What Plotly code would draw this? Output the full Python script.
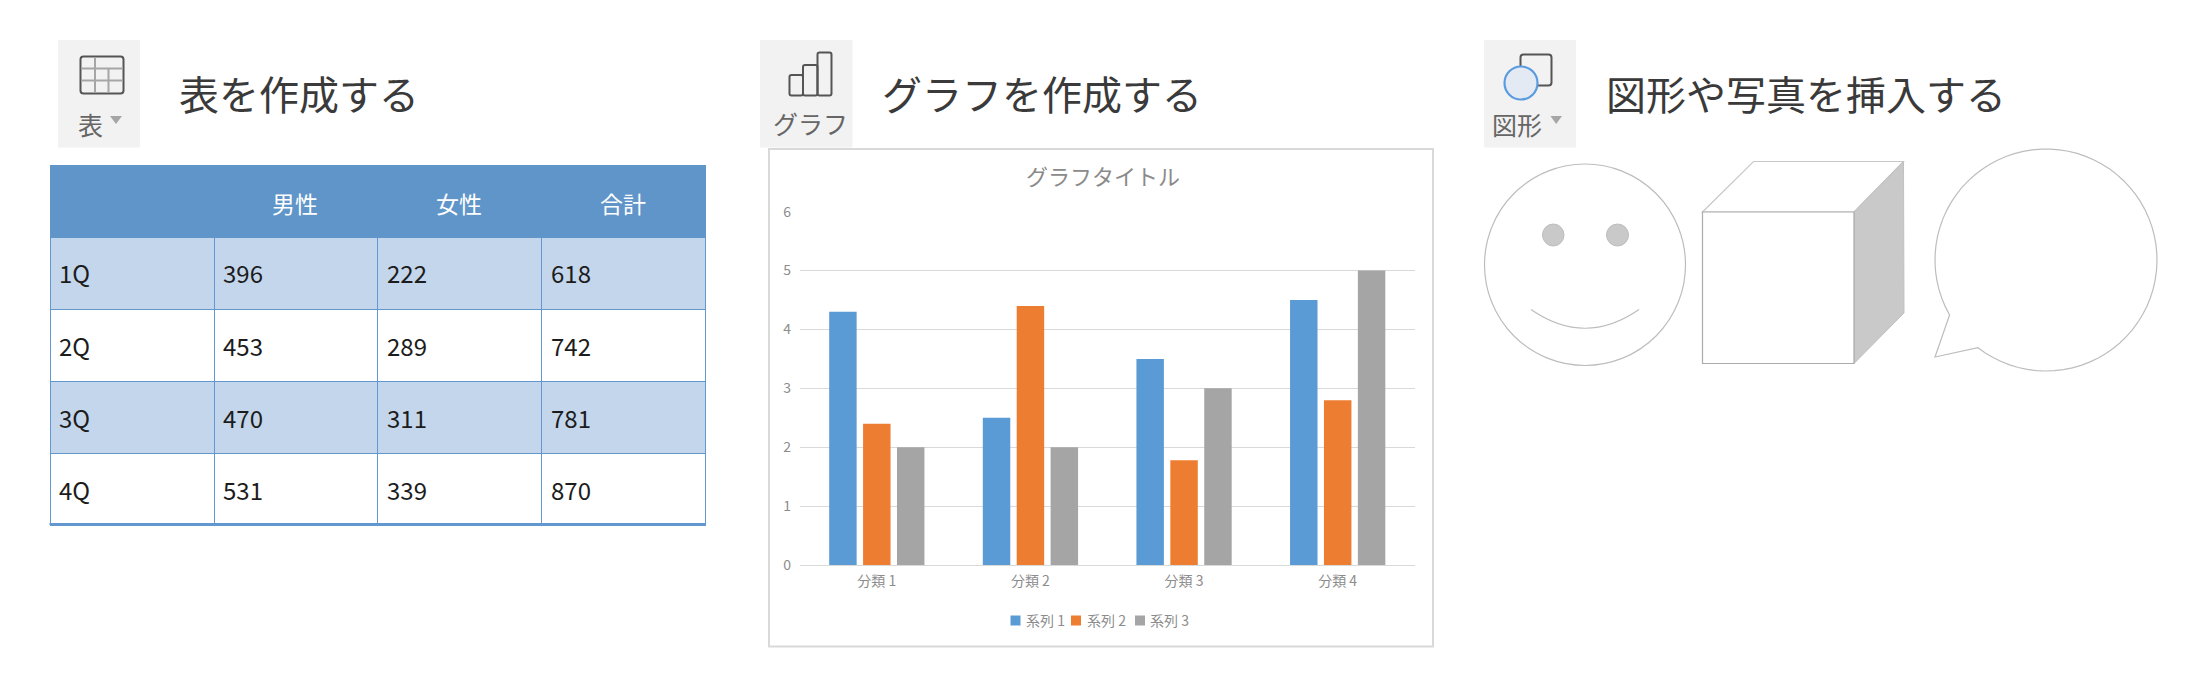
import math
import plotly.graph_objects as go

W, H = 2200, 696
JP = "Noto Sans CJK JP"

# table data
table_header = ["", "男性", "女性", "合計"]
quarters = ["1Q", "2Q", "3Q", "4Q"]
male = [396, 453, 470, 531]
female = [222, 289, 311, 339]
total = [618, 742, 781, 870]

# chart data
categories = ["分類 1", "分類 2", "分類 3", "分類 4"]
series_names = ["系列 1", "系列 2", "系列 3"]
series_1 = [4.3, 2.5, 3.5, 4.5]
series_2 = [2.4, 4.4, 1.78, 2.8]
series_3 = [2, 2, 3, 5]
series_colors = ["#5B9BD5", "#ED7D31", "#A5A5A5"]
y_ticks = [0, 1, 2, 3, 4, 5, 6]

headings = ["表を作成する", "グラフを作成する", "図形や写真を挿入する"]
button_labels = ["表", "グラフ", "図形"]


def fx(x):
    return x / W


def fy(y):
    return 1 - y / H


def path(*parts):
    # parts: command letters and (x, y) pixel points
    out = []
    for p in parts:
        if isinstance(p, str):
            out.append(p)
        else:
            out.append(f"{fx(p[0]):.5f},{fy(p[1]):.5f}")
    return " ".join(out)


def round_rect(x0, y0, x1, y1, r):
    return path("M", (x0 + r, y0), "L", (x1 - r, y0), "Q", (x1, y0), (x1, y0 + r),
                "L", (x1, y1 - r), "Q", (x1, y1), (x1 - r, y1),
                "L", (x0 + r, y1), "Q", (x0, y1), (x0, y1 - r),
                "L", (x0, y0 + r), "Q", (x0, y0), (x0 + r, y0), "Z")


shapes = []


def rect(x0, y0, x1, y1, fill=None, line=None, lw=1, layer="above"):
    shapes.append(dict(type="rect", xref="paper", yref="paper", layer=layer,
                       x0=fx(x0), x1=fx(x1), y0=fy(y0), y1=fy(y1),
                       fillcolor=fill or "rgba(0,0,0,0)",
                       line=dict(color=line or "rgba(0,0,0,0)", width=lw if line else 0)))


def oval(x0, y0, x1, y1, fill=None, line="#bdbdbd", lw=1.2):
    shapes.append(dict(type="circle", xref="paper", yref="paper",
                       x0=fx(x0), x1=fx(x1), y0=fy(y0), y1=fy(y1),
                       fillcolor=fill or "rgba(0,0,0,0)", line=dict(color=line, width=lw)))


def draw(d, fill=None, line="#bdbdbd", lw=1.2):
    shapes.append(dict(type="path", xref="paper", yref="paper", path=d,
                       fillcolor=fill or "rgba(0,0,0,0)",
                       line=dict(color=line or "rgba(0,0,0,0)", width=lw if line else 0)))


annotations = []


def label(x, y, text, size, color, family=JP, anchor="center"):
    annotations.append(dict(x=fx(x), y=fy(y), xref="paper", yref="paper", text=text,
                            showarrow=False, xanchor=anchor, yanchor="middle",
                            font=dict(family=family, size=size, color=color)))


fig = go.Figure()

# --- left block: table
header_fill = "#6095C9"
band = "#C4D6EB"
grid_blue = "#6397CF"
fig.add_trace(go.Table(
    domain=dict(x=[fx(50), fx(705)], y=[fy(526), fy(165)]),
    columnwidth=[164, 163, 164, 164],
    header=dict(values=["", "", "", ""], height=72, fill_color=header_fill,
                line=dict(color=header_fill, width=1)),
    cells=dict(values=[[""] * 4] * 4, height=72,
               fill_color=[[band, "#ffffff", band, "#ffffff"]] * 4,
               line=dict(color=grid_blue, width=1)),
))
# bottom edge of the table is heavier than the inner rules
rect(49.5, 523, 705, 525, fill=grid_blue)

col_text_x = [57, 221, 385, 549]
col_mid_x = [132, 295, 459, 623]
for name, x in zip(table_header[1:], col_mid_x[1:]):
    label(x, 202.5, name, 23, "#ffffff")
for i in range(4):
    row = [quarters[i], male[i], female[i], total[i]]
    for value, x in zip(row, col_text_x):
        label(x, 273 + 72 * i, str(value), 24, "#1c1c1c", anchor="left")

# --- middle block: chart
rect(769, 149, 1433, 646.5, line="#d9d9d9", lw=2, layer="below")
for name, values, color in zip(series_names, [series_1, series_2, series_3], series_colors):
    fig.add_trace(go.Bar(x=categories, y=values, name=name, marker=dict(color=color, line_width=0),
                         xaxis="x", yaxis="y", showlegend=False))

tick_font = dict(family=JP, size=14, color="#8c8c8c")
fig.update_layout(
    barmode="group", bargap=0.338, bargroupgap=0.19,
    xaxis=dict(domain=[fx(800), fx(1414.5)], showgrid=False, showline=True, linecolor="#d9d9d9",
               linewidth=1, ticks="", tickfont=tick_font, ticklabelstandoff=3),
    yaxis=dict(domain=[fy(565), fy(211.7)], range=[0, 6], tickvals=y_ticks, gridcolor="#d9d9d9",
               gridwidth=1, zeroline=False, ticks="", tickfont=tick_font, ticklabelstandoff=8),
)
label(1102.5, 175, "グラフタイトル", 22, "#8a8a8a")

# legend row
legend_swatch_x = [1010.5, 1071, 1135]
legend_text_x = [1024, 1084.5, 1148]
for name, color, sx, tx in zip(series_names, series_colors, legend_swatch_x, legend_text_x):
    rect(sx, 615.5, sx + 10, 625.5, fill=color)
    label(tx, 619.5, name, 14, "#8c8c8c", anchor="left")

# --- headings
label(177, 93, headings[0], 40, "#3a3a3a", anchor="left")
label(880, 93, headings[1], 40, "#3a3a3a", anchor="left")
label(1604, 93, headings[2], 40, "#3a3a3a", anchor="left")

# --- ribbon buttons
for x0, x1 in [(58, 140), (760, 852.5), (1484, 1576)]:
    rect(x0, 40, x1, 147.5, fill="#F2F2F2")

# table button
draw(round_rect(80.5, 56.5, 123.5, 93.5, 3), line="#555555", lw=2)
for d in [path("M", (95, 57), "L", (95, 93)), path("M", (108.5, 68.5), "L", (108.5, 93)),
          path("M", (81, 68.5), "L", (123, 68.5)), path("M", (81, 80.5), "L", (123, 80.5))]:
    draw(d, line="#a6a6a6", lw=2)
label(90.5, 124, button_labels[0], 25, "#666666")
draw(path("M", (110, 116), "L", (122, 116), "L", (116, 124), "Z"), fill="#a6a6a6", line=None)

# chart button
for d in [round_rect(789.5, 75, 803, 95.5, 2), round_rect(803, 65, 817.5, 95.5, 2),
          round_rect(817.5, 52.5, 831.5, 95.5, 2)]:
    draw(d, line="#555555", lw=2)
label(810.5, 123, button_labels[1], 25, "#666666")

# shape button
draw(round_rect(1520.5, 54.5, 1551.5, 85.5, 3), line="#555555", lw=2)
oval(1504.5, 66.5, 1537.5, 99.5, fill="#E4EAF4", line="#5B9BE0", lw=2.2)
label(1517, 124, button_labels[2], 25, "#666666")
draw(path("M", (1550.5, 116), "L", (1562, 116), "L", (1556.2, 124), "Z"), fill="#a6a6a6", line=None)

# --- right block: clip-art shapes
oval(1484.5, 164, 1685.5, 365.5)
oval(1542.5, 224, 1564, 246, fill="#C9C9C9", line="#bdbdbd", lw=1)
oval(1606.5, 224, 1628.5, 246, fill="#C9C9C9", line="#bdbdbd", lw=1)
draw(path("M", (1531, 309.5), "Q", (1585, 347), (1639, 309.5)))

draw(path("M", (1702.5, 212), "L", (1753.5, 161.5), "L", (1903.5, 161.5), "L", (1854, 212), "Z"),
     line="#c8c8c8")
draw(path("M", (1854, 212), "L", (1903.5, 161.5), "L", (1904, 313), "L", (1854, 363.5), "Z"),
     fill="#C9C9C9", line="#c0c0c0", lw=1)
rect(1702.5, 212, 1854, 363.5, fill="#ffffff", line="#ababab", lw=1.2)

# speech bubble outline, long way round the circle between the tail's two ends
cx, cy, rb = 2046, 260, 111
start = math.atan2(347.5 - cy, 1978 - cx)
end = math.atan2(315 - cy, 1949.5 - cx)
if end < start:
    end += 2 * math.pi
n = 72
bubble = ["M", (1935, 357)]
for k in range(n + 1):
    a = start - (2 * math.pi - (end - start)) * k / n
    bubble += ["L", (cx + rb * math.cos(a), cy + rb * math.sin(a))]
bubble += ["Z"]
draw(path(*bubble))

fig.update_layout(
    width=W, height=H, margin=dict(l=0, r=0, t=0, b=0, autoexpand=False),
    paper_bgcolor="#ffffff", plot_bgcolor="#ffffff",
    font=dict(family=JP),
    shapes=shapes, annotations=annotations,
)

fig.write_html("out.html", config=dict(displayModeBar=False),
               post_script="document.body.style.margin='0';")
